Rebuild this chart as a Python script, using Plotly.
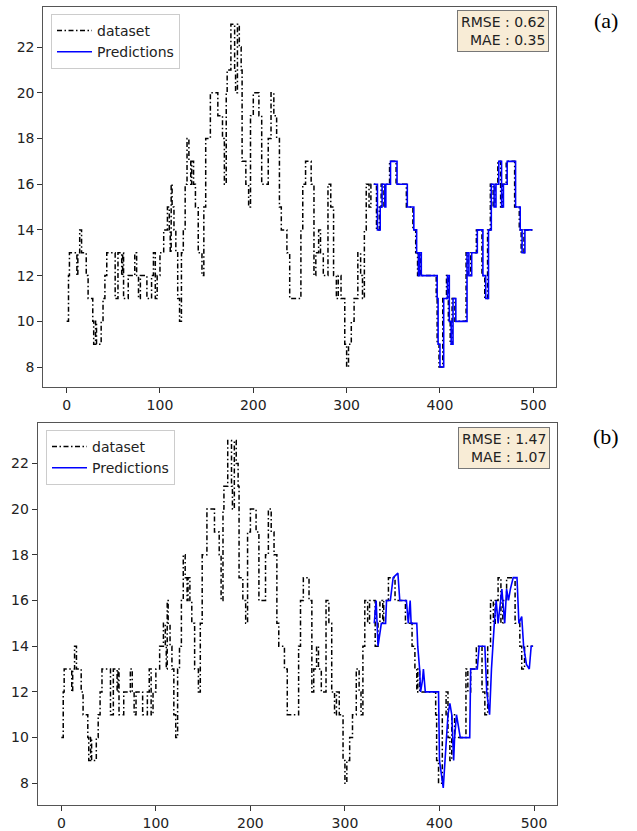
import plotly.graph_objects as go

# ---- data (breakpoints: index where a level starts, value) ----
data_x = [0, 2, 3, 11, 12, 14, 16, 21, 23, 28, 29, 31, 32, 37, 39, 41, 43, 52, 55, 59, 60, 61,
          66, 73, 75, 77, 79, 86, 91, 93, 95, 97, 100, 104, 108, 110, 111, 112, 113, 115, 117,
          119, 121, 123, 125, 127, 129, 131, 133, 134, 136, 138, 141, 145, 147, 149, 154, 162,
          167, 169, 171, 172, 176, 180, 181, 183, 185, 187, 188, 192, 195, 197, 200, 206, 209,
          216, 219, 222, 225, 228, 230, 236, 239, 251, 253, 256, 262, 265, 267, 270, 272, 275,
          280, 283, 286, 289, 291, 294, 298, 300, 302, 305, 308, 312, 315, 317, 319, 321, 324,
          326, 329, 332, 335, 337, 340, 341, 346, 353, 364, 371, 374, 376, 377, 379, 396, 397,
          399, 403, 407, 409, 411, 413, 416, 428, 430, 433, 439, 445, 448, 451, 454, 457, 459,
          462, 465, 467, 471, 480, 485, 487, 490, 499]
data_y = [10, 12, 13, 12, 13, 14, 13, 12, 11, 10, 9, 10, 9, 10, 11, 12, 13, 11, 13, 12, 13, 11,
          12, 13, 12, 11, 12, 11, 12, 13, 11, 12, 13, 14, 15, 14, 13, 16, 15, 14, 13,
          11, 10, 13, 14, 16, 18, 17, 16, 17, 16, 15, 13, 12, 15, 18, 20, 19,
          18, 16, 20, 21, 23, 21, 20, 23, 22, 21, 17, 16, 15, 19, 20, 19, 16,
          18, 20, 19, 18, 15, 14, 13, 11, 14, 16, 17, 16, 12, 13, 14, 13, 12,
          16, 15, 12, 11, 12, 11, 9, 8, 9, 10, 11, 13, 12, 11, 14, 16, 15,
          16, 16, 14, 15, 16, 15, 16, 17, 16, 15, 14, 13, 12, 13, 12, 11, 9,
          8, 11, 12, 10, 9, 11, 10, 13, 12, 13, 14, 12, 11, 14, 16, 15, 16,
          17, 15, 16, 17, 15, 14, 13, 14, 14]

pred_a_x = [329, 333, 336, 338, 341, 342, 347, 354, 365, 372, 375, 377, 378, 380, 397, 398, 400,
            404, 408, 410, 412, 414, 417, 429, 431, 434, 440, 446, 449, 452, 455, 458, 460, 463,
            466, 468, 472, 481, 486, 488, 491, 499]
pred_a_y = [16, 14, 15, 16, 15, 16, 17, 16, 15, 14, 13, 12, 13, 12, 11, 9, 8,
            11, 12, 10, 9, 11, 10, 13, 12, 13, 14, 12, 11, 14, 16, 15, 16, 17,
            15, 16, 17, 15, 14, 13, 14, 14]

pred_b_x = [331, 333, 335, 337, 338.5, 341, 343, 344, 348, 351, 354, 356, 358, 364, 365, 367, 369,
            370, 376, 377, 379, 380, 382, 383, 385, 399, 400, 404, 406, 408, 409, 411, 413, 415,
            416, 418, 422, 432, 433, 440, 442, 448, 450, 453, 455, 458, 460, 462, 466, 467, 469,
            471, 473, 475, 478, 482, 484, 487, 489, 492, 495, 497, 499]
pred_b_y = [15, 16, 14, 14.5, 15, 15, 15, 16, 16, 17, 17.1, 17.2, 16, 16, 16, 15, 16,
            15, 15, 14, 13, 12, 12.5, 13, 12, 12, 9, 7.8, 9, 10, 11, 11.5, 11, 9,
            10, 11, 10, 10, 13, 13, 14, 14, 12, 11, 13, 15, 16, 15, 16.5, 16, 15,
            16.5, 16, 16.5, 17, 17, 15, 15.3, 14, 13.2, 13, 14, 14]

x_ticks = [0, 100, 200, 300, 400, 500]
y_ticks = [8, 10, 12, 14, 16, 18, 20, 22]
metrics_a = ("0.62", "0.35")
metrics_b = ("1.47", "1.07")
labels = ["(a)", "(b)"]

W, H = 637, 831
FONT = "DejaVu Sans"
DASH = "5px,2.5px,1.5px,2.5px"

fig = go.Figure()

# top panel
fig.add_trace(go.Scatter(x=data_x, y=data_y, mode="lines", line_shape="hv", name="dataset",
                         line=dict(color="black", width=1.5, dash=DASH),
                         xaxis="x", yaxis="y", legend="legend"))
fig.add_trace(go.Scatter(x=pred_a_x, y=pred_a_y, mode="lines", line_shape="hv", name="Predictions",
                         line=dict(color="#0000ff", width=1.6),
                         xaxis="x", yaxis="y", legend="legend"))
# bottom panel
fig.add_trace(go.Scatter(x=data_x, y=data_y, mode="lines", line_shape="hv", name="dataset",
                         line=dict(color="black", width=1.5, dash=DASH),
                         xaxis="x2", yaxis="y2", legend="legend2"))
fig.add_trace(go.Scatter(x=pred_b_x, y=pred_b_y, mode="lines", name="Predictions",
                         line=dict(color="#0000ff", width=1.6),
                         xaxis="x2", yaxis="y2", legend="legend2"))

axis_common = dict(showgrid=False, zeroline=False, showline=True, mirror=True,
                   linecolor="#555555", linewidth=1, ticks="outside", ticklen=5,
                   tickcolor="#333333", tickfont=dict(family=FONT, size=14, color="#222222"))

fig.update_layout(
    width=W, height=H, margin=dict(l=0, r=0, t=0, b=0),
    paper_bgcolor="white", plot_bgcolor="white",
    xaxis=dict(domain=[43.3 / W, 555.7 / W], range=[-25, 524], tickvals=x_ticks,
               anchor="y", **axis_common),
    yaxis=dict(domain=[1 - 386.7 / H, 1 - 7.3 / H], range=[7.14, 23.74], tickvals=y_ticks,
               anchor="x", **axis_common),
    xaxis2=dict(domain=[37.7 / W, 556.7 / W], range=[-25, 524], tickvals=x_ticks,
                anchor="y2", **axis_common),
    yaxis2=dict(domain=[1 - 805 / H, 1 - 422.7 / H], range=[7.05, 23.78], tickvals=y_ticks,
                anchor="x2", **axis_common),
    legend=dict(x=51 / W, y=1 - 14 / H, xanchor="left", yanchor="top",
                bgcolor="white", bordercolor="#cccccc", borderwidth=1,
                font=dict(family=FONT, size=14, color="#222222"), tracegroupgap=0,
                itemwidth=35),
    legend2=dict(x=46 / W, y=1 - 430 / H, xanchor="left", yanchor="top",
                 bgcolor="white", bordercolor="#cccccc", borderwidth=1,
                 font=dict(family=FONT, size=14, color="#222222"), tracegroupgap=0,
                 itemwidth=35),
    showlegend=True,
)

box = dict(xref="paper", yref="paper", xanchor="right", yanchor="top", align="right",
           showarrow=False, bgcolor="#f8ecd6", bordercolor="#777777", borderwidth=1,
           borderpad=3, font=dict(family=FONT, size=14, color="#222222"))
fig.add_annotation(x=548.5 / W, y=1 - 10.5 / H,
                   text=f"RMSE : {metrics_a[0]}<br>MAE : {metrics_a[1]}", **box)
fig.add_annotation(x=550 / W, y=1 - 426.5 / H,
                   text=f"RMSE : {metrics_b[0]}<br>MAE : {metrics_b[1]}", **box)

lab = dict(xref="paper", yref="paper", xanchor="center", yanchor="middle", showarrow=False,
           font=dict(family="Liberation Serif", size=22, color="black"))
fig.add_annotation(x=606 / W, y=1 - 20 / H, text=labels[0], **lab)
fig.add_annotation(x=606 / W, y=1 - 437 / H, text=labels[1], **lab)

fig.write_html("out.html")
